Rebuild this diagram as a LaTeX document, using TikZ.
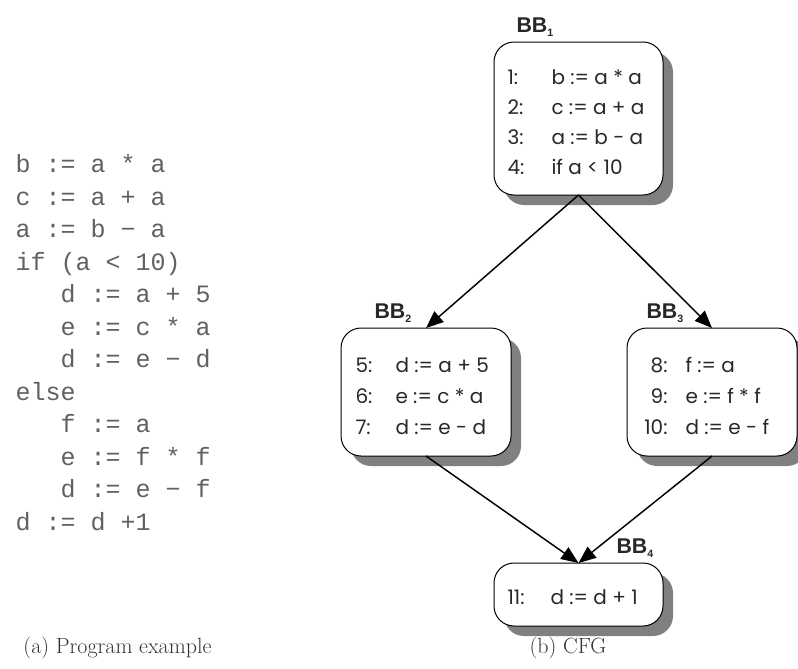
\documentclass[tikz,border=0pt]{standalone}
\usepackage{fontspec}
\usetikzlibrary{arrows.meta,shadows}
\newfontfamily\codefont{Liberation Mono}
\newfontfamily\boxfont{Poppins}
\newfontfamily\bbfont{Liberation Sans}
\definecolor{shadowgray}{RGB}{128,128,128}
\definecolor{inkgray}{RGB}{40,40,40}
\newcommand{\bbsub}[1]{\raisebox{-3pt}{\fontsize{8}{8}\selectfont #1}}

\tikzset{every picture/.style={line width=0.75pt}}
\tikzset{
  block/.style={draw, fill=white, rounded corners=15pt, inner sep=0pt, outer sep=0pt,
    drop shadow={shadow xshift=7.5pt, shadow yshift=-7.5pt, fill=shadowgray, opacity=1}},
  code/.style={anchor=base west, inner sep=0pt, text=black!62, font=\codefont\fontsize{18.75}{20}\selectfont},
  rowtxt/.style={anchor=base west, inner sep=0pt, text=inkgray, font=\boxfont\fontsize{15}{16}\selectfont},
  bblabel/.style={anchor=base west, inner sep=0pt, text=inkgray, font=\bbfont\bfseries\fontsize{16}{18}\selectfont},
  caption/.style={inner sep=0pt, text=black!80, font=\fontsize{16.5}{18}\selectfont},
  flow/.style={line width=1.1pt, -{Triangle[length=13pt, width=10.5pt]}}
}

\begin{document}
\begin{tikzpicture}[x=0.75pt,y=0.75pt,yscale=-1,xscale=1]
\useasboundingbox (0,0) rectangle (798,668);

% Program listing
\node (pa) [code] at (15,172.5) {b := a * a};
\node (pb) [code] at (15,205) {c := a + a};
\node (pc) [code] at (15,237.5) {a := b − a};
\node (pd) [code] at (15,270) {if (a < 10)};
\node (pe) [code] at (60,302.5) {d := a + 5};
\node (pf) [code] at (60,335) {e := c * a};
\node (pg) [code] at (60,367.5) {d := e − d};
\node (ph) [code] at (15,400) {else};
\node (pi) [code] at (60,432.5) {f := a};
\node (pj) [code] at (60,465) {e := f * f};
\node (pk) [code] at (60,497.5) {d := e − f};
\node (pl) [code] at (15,530) {d := d +1};

% Basic blocks
\node (bb1) [block, minimum width=126.75pt, minimum height=114.75pt] at (578.5,118.5) {};
\node (bb2) [block, minimum width=127.5pt, minimum height=96pt] at (426,392) {};
\node (bb3) [block, minimum width=127.5pt, minimum height=96pt] at (712,392) {};
\node (bb4) [block, minimum width=126.75pt, minimum height=47.25pt] at (578.5,594.5) {};

% Block labels
\node (lbl1) [bblabel] at (516,32) {BB\bbsub{1}};
\node (lbl2) [bblabel] at (374,318) {BB\bbsub{2}};
\node (lbl3) [bblabel] at (646,318) {BB\bbsub{3}};
\node (lbl4) [bblabel] at (616,553) {BB\bbsub{4}};

% Text of BB1
\node (n1) [rowtxt] at (507,84) {1:};
\node (s1) [rowtxt] at (551,84) {b := a * a};
\node (n2) [rowtxt] at (507,114) {2:};
\node (s2) [rowtxt] at (551,114) {c := a + a};
\node (n3) [rowtxt] at (507,144) {3:};
\node (s3) [rowtxt] at (551,144) {a := b - a};
\node (n4) [rowtxt] at (507,174) {4:};
\node (s4) [rowtxt] at (551,174) {if a < 10};
% Text of BB2
\node (n5) [rowtxt] at (355,372) {5:};
\node (s5) [rowtxt] at (395,372) {d := a + 5};
\node (n6) [rowtxt] at (355,403) {6:};
\node (s6) [rowtxt] at (395,403) {e := c * a};
\node (n7) [rowtxt] at (355,434) {7:};
\node (s7) [rowtxt] at (395,434) {d := e - d};
% Text of BB3
\node (n8) [rowtxt, anchor=base east] at (668,372) {8:};
\node (s8) [rowtxt] at (685,372) {f := a};
\node (n9) [rowtxt, anchor=base east] at (668,403) {9:};
\node (s9) [rowtxt] at (685,403) {e := f * f};
\node (n10) [rowtxt, anchor=base east] at (668,434) {10:};
\node (s10) [rowtxt] at (685,434) {d := e - f};
% Text of BB4
\node (n11) [rowtxt] at (507,604) {11:};
\node (s11) [rowtxt] at (550,604) {d := d + 1};

% Control flow edges
\draw [flow] (bb1.south) -- (bb2.north);
\draw [flow] (bb1.south) -- (bb3.north);
\draw [flow] (bb2.south) -- (bb4.north);
\draw [flow] (bb3.south) -- (bb4.north);

% Captions
\node (capa) [caption, anchor=west] at (23,648) {(a) Program example};
\node (capb) [caption] at (568,648) {(b) CFG};
\end{tikzpicture}
\end{document}
